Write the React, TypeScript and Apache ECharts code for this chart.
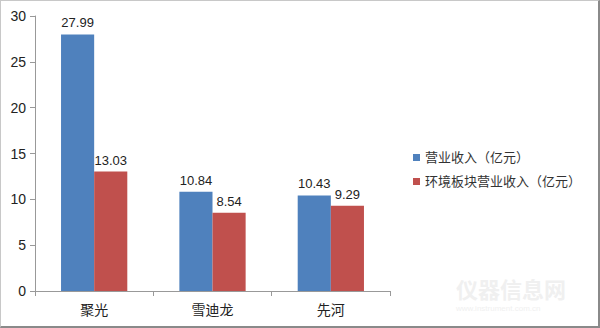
import React, { useEffect, useRef } from "react";
import * as echarts from "echarts";

const categories = ["聚光", "雪迪龙", "先河"];
const revenue = [27.99, 10.84, 10.43];
const envRevenue = [13.03, 8.54, 9.29];
const seriesNames = ["营业收入（亿元）", "环境板块营业收入（亿元）"];
const yTicks = { min: 0, max: 30, interval: 5 };

const FONT = "'Liberation Sans', 'Noto Sans CJK SC', sans-serif";

export default function App() {
  const ref = useRef<HTMLDivElement>(null);

  useEffect(() => {
    if (!ref.current) return;
    const chart = echarts.init(ref.current, undefined, { renderer: "svg" });
    const labelStyle = {
      show: true,
      position: "top" as const,
      color: "#222",
      fontSize: 13,
      fontFamily: FONT,
      distance: 5,
      formatter: (p: any) => p.value.toFixed(2),
    };
    chart.setOption({
      animation: false,
      backgroundColor: "#ffffff",
      textStyle: { fontFamily: FONT },
      grid: { left: 34, right: 208, top: 15, bottom: 35, containLabel: false },
      legend: {
        orient: "vertical",
        left: 407,
        top: 145,
        itemWidth: 7,
        itemHeight: 7,
        itemGap: 11,
        icon: "rect",
        textStyle: { fontSize: 13, color: "#333", fontFamily: FONT },
        data: seriesNames,
      },
      xAxis: {
        type: "category",
        data: categories,
        axisLine: { lineStyle: { color: "#999" } },
        axisTick: { show: true, alignWithLabel: false, length: 5, lineStyle: { color: "#999" } },
        axisLabel: { color: "#222", fontSize: 14, margin: 12, fontFamily: FONT },
      },
      yAxis: {
        type: "value",
        min: yTicks.min,
        max: yTicks.max,
        interval: yTicks.interval,
        axisLine: { show: true, lineStyle: { color: "#999" } },
        axisTick: { show: true, length: 5, lineStyle: { color: "#999" } },
        splitLine: { show: false },
        axisLabel: { color: "#222", fontSize: 14, margin: 9, fontFamily: FONT },
      },
      series: [
        {
          name: seriesNames[0],
          type: "bar",
          data: revenue,
          itemStyle: { color: "#4F81BD" },
          barGap: "0%",
          barCategoryGap: "44%",
          label: labelStyle,
        },
        {
          name: seriesNames[1],
          type: "bar",
          data: envRevenue,
          itemStyle: { color: "#C0504D" },
          label: labelStyle,
        },
      ],
      graphic: [
        {
          type: "text",
          left: 455,
          top: 276,
          style: {
            text: "仪器信息网",
            fontSize: 22,
            fontWeight: "bold",
            fill: "#f0f0f0",
            fontFamily: "'Noto Sans CJK SC', sans-serif",
          },
        },
        {
          type: "text",
          left: 455,
          top: 303,
          style: {
            text: "www.instrument.com.cn",
            fontSize: 8,
            fill: "#f0f0f0",
            fontFamily: FONT,
          },
        },
      ],
    });
    return () => chart.dispose();
  }, []);

  return (
    <div
      style={{
        position: "fixed",
        left: 0,
        top: 0,
        width: 600,
        height: 328,
        boxSizing: "border-box",
        borderTop: "1px solid #c8c8c8",
        borderLeft: "1px solid #c8c8c8",
        borderRight: "2px solid #8a8a8a",
        borderBottom: "2px solid #8a8a8a",
        background: "#fff",
      }}
    >
      <div ref={ref} style={{ width: 597, height: 325 }} />
    </div>
  );
}
